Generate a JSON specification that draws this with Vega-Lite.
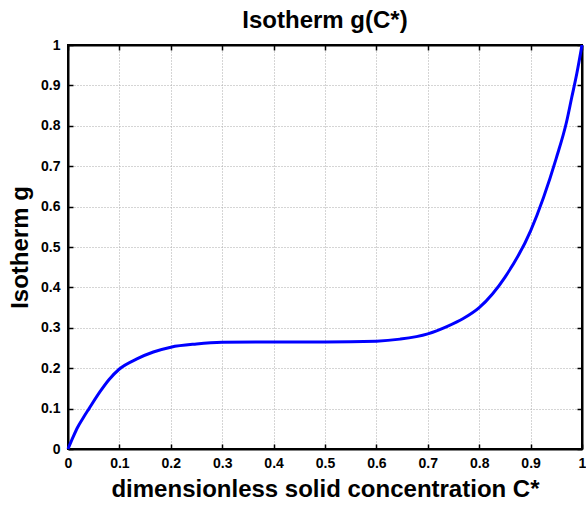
{
  "$schema": "https://vega.github.io/schema/vega-lite/v6.json",
  "width": 514,
  "height": 404,
  "autosize": {"type": "none"},
  "padding": {"left": 68, "top": 45, "right": 4, "bottom": 58},
  "background": "white",
  "title": {
    "text": "Isotherm g(C*)",
    "font": "Liberation Sans",
    "fontSize": 24,
    "fontWeight": "bold",
    "color": "black",
    "offset": 5
  },
  "config": {
    "view": {"stroke": "black", "strokeWidth": 2},
    "axis": {
      "domainColor": "black",
      "domainWidth": 2,
      "tickColor": "black",
      "tickWidth": 1.5,
      "tickSize": -5,
      "labelFont": "Liberation Sans",
      "labelFontWeight": "bold",
      "labelFontSize": 14,
      "labelColor": "black",
      "titleFont": "Liberation Sans",
      "titleFontWeight": "bold",
      "titleFontSize": 24,
      "titleColor": "black",
      "gridColor": "#aaaaaa",
      "gridDash": [1, 2],
      "gridWidth": 1,
      "gridOpacity": 1
    }
  },
  "data": {
    "values": [
      {"c": 0.0, "g": 0.0},
      {"c": 0.01, "g": 0.03},
      {"c": 0.018, "g": 0.052},
      {"c": 0.03, "g": 0.078},
      {"c": 0.041, "g": 0.1},
      {"c": 0.063, "g": 0.143},
      {"c": 0.08, "g": 0.172},
      {"c": 0.1, "g": 0.198},
      {"c": 0.134, "g": 0.223},
      {"c": 0.166, "g": 0.24},
      {"c": 0.2, "g": 0.252},
      {"c": 0.25, "g": 0.26},
      {"c": 0.3, "g": 0.264},
      {"c": 0.4, "g": 0.265},
      {"c": 0.5, "g": 0.265},
      {"c": 0.6, "g": 0.267},
      {"c": 0.646, "g": 0.272},
      {"c": 0.7, "g": 0.285},
      {"c": 0.737, "g": 0.303},
      {"c": 0.769, "g": 0.323},
      {"c": 0.8, "g": 0.35},
      {"c": 0.85, "g": 0.425},
      {"c": 0.9, "g": 0.54},
      {"c": 0.95, "g": 0.72},
      {"c": 0.97, "g": 0.81},
      {"c": 0.98, "g": 0.87},
      {"c": 0.99, "g": 0.93},
      {"c": 1.0, "g": 1.0}
    ]
  },
  "layer": [
    {
      "mark": {"type": "line", "color": "#0000ff", "strokeWidth": 3, "interpolate": "monotone", "clip": false},
      "encoding": {
        "x": {
          "field": "c", "type": "quantitative",
          "scale": {"domain": [0, 1], "nice": false, "zero": false},
          "axis": {"values": [0,0.1,0.2,0.3,0.4,0.5,0.6,0.7,0.8,0.9,1], "format": "~g", "title": "dimensionless solid concentration C*", "labelPadding": 12, "titlePadding": 7, "labelFlush": false}
        },
        "y": {
          "field": "g", "type": "quantitative",
          "scale": {"domain": [0, 1], "nice": false, "zero": false},
          "axis": {"values": [0,0.1,0.2,0.3,0.4,0.5,0.6,0.7,0.8,0.9,1], "format": "~g", "title": "Isotherm g", "labelPadding": 13, "titlePadding": 8, "labelFlush": false}
        }
      }
    },
    {
      "mark": {"type": "point", "opacity": 0},
      "encoding": {
        "x": {
          "field": "c", "type": "quantitative",
          "scale": {"domain": [0, 1], "nice": false, "zero": false},
          "axis": {"orient": "top", "values": [0,0.1,0.2,0.3,0.4,0.5,0.6,0.7,0.8,0.9,1], "labels": false, "grid": false, "title": null}
        },
        "y": {
          "field": "g", "type": "quantitative",
          "scale": {"domain": [0, 1], "nice": false, "zero": false},
          "axis": {"orient": "right", "values": [0,0.1,0.2,0.3,0.4,0.5,0.6,0.7,0.8,0.9,1], "labels": false, "grid": false, "title": null}
        }
      }
    }
  ],
  "resolve": {"axis": {"x": "independent", "y": "independent"}}
}
